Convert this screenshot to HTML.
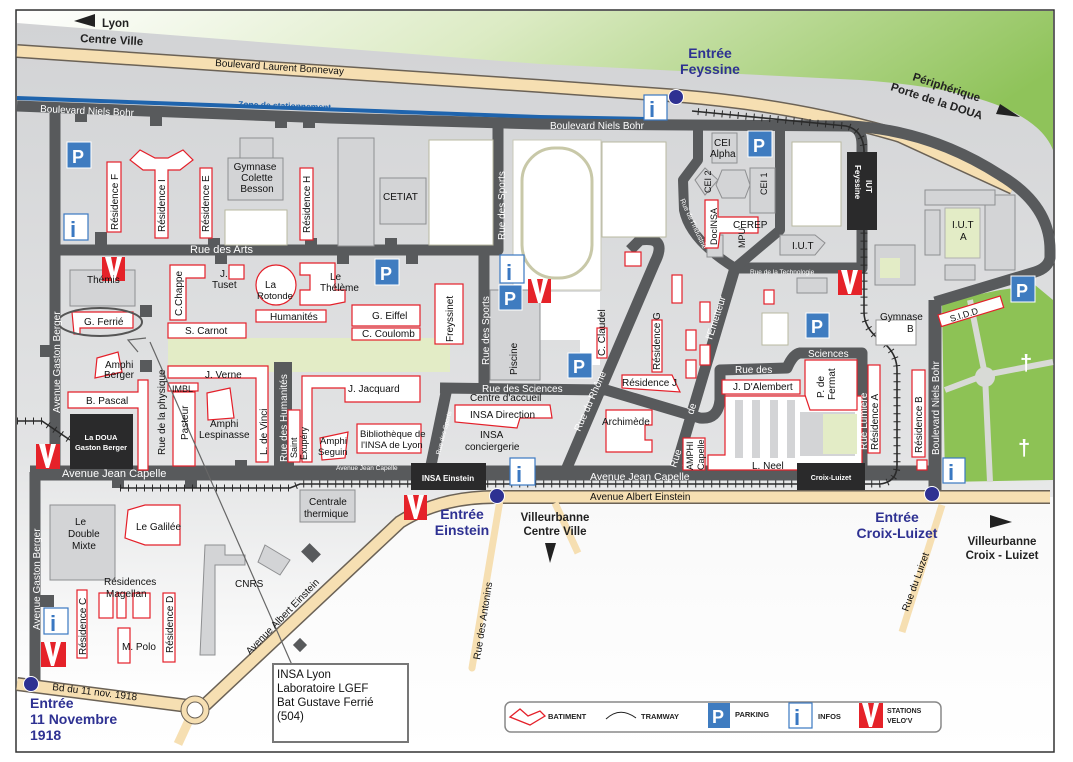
<!DOCTYPE html>
<html><head><meta charset="utf-8"><style>
html,body{margin:0;padding:0;background:#fff}
svg{display:block}
text{font-family:"Liberation Sans",sans-serif}
.r{fill:#585a5c;stroke:none}
.b{fill:#fff;stroke:#e4202a;stroke-width:1.2}
.g{fill:#d3d4d6;stroke:#8e8f91;stroke-width:1}
.w{fill:#fff;stroke:#b8b8a0;stroke-width:1}
.t{font-size:10px;fill:#111}
.wt{font-size:10px;fill:#fff}
.en{font-size:14px;font-weight:bold;fill:#2e3192}
.bk{font-size:11.5px;font-weight:bold;fill:#222}
</style></head><body>
<svg width="1073" height="762" viewBox="0 0 1073 762" xmlns="http://www.w3.org/2000/svg">
<defs>
<linearGradient id="gr" x1="0" y1="0" x2="1" y2="0.3">
<stop offset="0" stop-color="#ffffff"/><stop offset="0.45" stop-color="#dcebc4"/><stop offset="1" stop-color="#8fc35a"/></linearGradient>
<linearGradient id="bg" x1="0" y1="0" x2="0" y2="1">
<stop offset="0" stop-color="#d2d3d5"/><stop offset="0.62" stop-color="#e2e3e4"/><stop offset="0.9" stop-color="#fafafa"/><stop offset="1" stop-color="#ffffff"/></linearGradient>
<linearGradient id="lo" x1="0" y1="0" x2="0" y2="1">
<stop offset="0" stop-color="#e6e7e8"/><stop offset="0.5" stop-color="#f6f6f6"/><stop offset="1" stop-color="#ffffff"/></linearGradient>
</defs>
<rect x="16" y="10" width="1038" height="742" fill="url(#lo)" stroke="#333" stroke-width="1.5"/>
<rect x="17" y="11" width="1036" height="200" fill="url(#gr)"/>
<path d="M17,23 L540,64 L860,80 Q1030,92 1053,150 L1053,497 L490,497 Q430,497 395,525 L205,705 L17,680 Z" fill="url(#bg)"/>
<path d="M942,302 L1000,290 L1035,285 L1053,300 L1053,480 L945,482 Z" fill="#8dc255"/>
<path d="M970,300 L985,375 L990,482 M945,390 L985,375 L1053,362" stroke="#d8dad6" stroke-width="6" fill="none"/>
<circle cx="985" cy="377" r="10" fill="#d8dad6"/>
<text x="1020" y="370" font-size="22" fill="#fff" font-weight="bold">†</text>
<text x="1018" y="455" font-size="22" fill="#fff" font-weight="bold">†</text>
<rect x="168" y="338" width="282" height="34" fill="#e3ecc6"/>
<rect x="825" y="415" width="37" height="42" fill="#e3ecc6"/>
<path d="M17,51 L540,86 L680,96 Q800,106 900,136 L1013,188" stroke="#6b6256" stroke-width="14" fill="none"/>
<path d="M17,51 L540,86 L680,96 Q800,106 900,136 L1013,188" stroke="#f6dfb2" stroke-width="11" fill="none"/>
<text transform="translate(215,66) rotate(3.8)" class="t" font-size="10.5">Boulevard  Laurent  Bonnevay</text>
<path d="M17,98 L540,117 L646,119" stroke="#1f64ad" stroke-width="4" fill="none"/>
<text transform="translate(238,107) rotate(2)" font-size="8.5" font-weight="bold" fill="#1f64ad">Zone de stationnement</text>
<g fill="none" stroke="#585a5c" stroke-linejoin="round">
<path d="M17,106 L330,118 L540,124 L850,126 Q862,128 862,145 L862,268 L735,268" stroke-width="11"/>
<path d="M850,126 Q930,130 1000,175 Q1050,205 1050,250 L1050,258 Q1048,268 1035,272 L935,302" stroke-width="11"/>
<path d="M698,124 L698,160 L683,180 L684,210 Q690,240 735,268 L780,230 L780,124" stroke-width="10"/>
<path d="M735,268 L673,477" stroke-width="11"/>
<path d="M55,106 L55,475" stroke-width="11"/>
<path d="M35,472 L35,682" stroke-width="11"/>
<path d="M55,250 L500,250" stroke-width="11"/>
<path d="M498,124 L498,250 L484,250 L484,392" stroke-width="11"/>
<path d="M440,388 L606,390 L700,418 Q718,420 720,400 L720,370 L787,368 Q793,354 800,353 L862,353 L862,475" stroke-width="11"/>
<path d="M447,388 L430,470" stroke-width="11"/>
<path d="M563,477 L655,262 Q668,236 640,240 L630,250" stroke-width="11"/>
<path d="M283,362 L283,470" stroke-width="18"/>
<path d="M935,300 L935,495" stroke-width="13"/>
<path d="M30,473 L930,473" stroke-width="15"/>
</g>
<g class="r">
<rect x="75" y="108" width="12" height="14"/><rect x="150" y="112" width="12" height="14"/><rect x="275" y="116" width="12" height="12"/><rect x="303" y="116" width="12" height="12"/>
<rect x="95" y="232" width="12" height="14"/><rect x="208" y="238" width="12" height="12"/><rect x="305" y="238" width="12" height="12"/><rect x="385" y="238" width="12" height="12"/>
<rect x="215" y="254" width="12" height="10"/><rect x="337" y="254" width="12" height="10"/><rect x="406" y="254" width="12" height="10"/>
<rect x="140" y="305" width="12" height="12"/><rect x="140" y="360" width="12" height="12"/><rect x="40" y="345" width="14" height="12"/>
<rect x="40" y="595" width="14" height="12"/><rect x="112" y="476" width="12" height="12"/><rect x="185" y="476" width="12" height="12"/>
<rect x="282" y="460" width="12" height="10"/><rect x="235" y="460" width="12" height="10"/>
</g>
<g fill="none" stroke="#2a2a2a">
<path d="M17,421 L42,421 L70,440 M120,488 L290,488 L300,484 L880,484 Q897,482 897,465 L897,370 Q897,352 880,340 Q864,328 864,312 L864,150 Q863,130 846,126 L692,111" stroke-width="1.6"/>
<path d="M17,421 L42,421 L70,440 M120,488 L290,488 L300,484 L880,484 Q897,482 897,465 L897,370 Q897,352 880,340 Q864,328 864,312 L864,150 Q863,130 846,126 L692,111" stroke-width="7" stroke-dasharray="1 7"/>
</g>
<rect x="513" y="140" width="88" height="150" fill="#fff" stroke="#c8c8b8"/>
<rect x="522" y="148" width="70" height="130" rx="33" fill="#fff" stroke="#c8c8a8" stroke-width="3"/>
<path d="M535,292 L600,292 L600,365 L580,365 L580,340 L540,340 L535,300Z" fill="#fff"/>
<rect x="429" y="140" width="64" height="105" class="w"/>
<rect x="602" y="142" width="64" height="95" class="w"/>
<rect x="792" y="142" width="49" height="84" class="w"/>
<rect x="225" y="210" width="62" height="35" class="w"/>
<rect x="762" y="313" width="26" height="32" class="w"/>
<rect x="228" y="158" width="55" height="42" class="g"/><rect x="240" y="138" width="33" height="20" class="g"/>
<rect x="338" y="138" width="36" height="108" class="g"/><rect x="380" y="178" width="46" height="46" class="g"/>
<rect x="70" y="270" width="65" height="36" class="g"/>
<rect x="50" y="505" width="65" height="75" class="g"/>
<path d="M205,545 L225,545 L225,555 L245,555 L245,565 L215,565 L215,655 L200,655 Z" class="g" fill="none"/>
<path d="M265,545 L290,560 L280,575 L258,562Z" class="g" fill="none"/>
<rect x="300" y="490" width="55" height="32" class="g"/>
<rect x="490" y="290" width="50" height="90" class="g"/>
<rect x="712" y="133" width="25" height="30" class="g"/>
<path d="M695,180 L705,168 L718,180 L705,195Z" class="g"/>
<rect x="750" y="168" width="25" height="45" class="g"/>
<path d="M722,170 L745,170 L750,185 L745,198 L722,198 L716,185Z" class="g"/>
<rect x="707" y="235" width="16" height="22" class="g"/>
<path d="M780,235 L815,235 L825,243 L815,255 L780,255Z" class="g"/>
<rect x="875" y="245" width="40" height="40" class="g"/><rect x="880" y="258" width="20" height="20" fill="#e3ecc6"/>
<rect x="945" y="208" width="35" height="50" fill="#e3ecc6" stroke="#b0b0b0"/>
<rect x="925" y="210" width="15" height="45" class="g"/><rect x="985" y="195" width="30" height="75" class="g"/>
<rect x="925" y="190" width="70" height="15" class="g"/><rect x="945" y="265" width="30" height="15" class="g"/>
<rect x="876" y="320" width="40" height="25" fill="#fff" stroke="#999"/>
<rect x="797" y="278" width="30" height="15" class="g"/>
<rect x="107" y="162" width="14" height="70" class="b"/>
<path d="M130,160 L140,150 L155,158 L168,158 L183,150 L193,160 L180,170 L168,170 L168,238 L155,238 L155,170 L143,170Z" class="b"/>
<rect x="200" y="168" width="12" height="70" class="b"/>
<rect x="300" y="168" width="13" height="72" class="b"/>
<path d="M72,312 L133,312 L133,328 L80,328 L80,334 L74,334Z" class="b"/>
<path d="M97,358 L118,352 L122,372 L95,378Z" class="b"/>
<path d="M68,392 L138,392 L138,380 L148,380 L148,470 L138,470 L138,408 L68,408Z" class="b"/>
<path d="M170,265 L205,265 L205,278 L186,278 L186,320 L170,320Z" class="b"/>
<rect x="229" y="265" width="15" height="14" class="b"/>
<circle cx="276" cy="285" r="20" class="b"/>
<path d="M300,263 L335,263 L335,290 L345,290 L345,302 L330,305 L300,305 L300,290 L310,290 L310,275 L300,275Z" class="b"/>
<rect x="256" y="310" width="70" height="12" class="b"/>
<rect x="168" y="323" width="78" height="15" class="b"/>
<path d="M352,305 L420,305 L420,326 L352,326Z" class="b"/>
<rect x="352" y="328" width="68" height="12" class="b"/>
<rect x="435" y="284" width="28" height="60" class="b"/>
<path d="M168,366 L268,366 L268,462 L256,462 L256,378 L168,378Z" class="b"/>
<rect x="168" y="383" width="30" height="8" class="b"/>
<rect x="173" y="392" width="22" height="74" class="b"/>
<path d="M207,393 L230,388 L234,418 L208,420Z" class="b"/>
<rect x="288" y="410" width="12" height="52" class="b"/>
<path d="M302,376 L420,376 L420,402 L345,402 L345,388 L312,388 L312,462 L302,462Z" class="b"/>
<path d="M320,438 L348,432 L345,458 L322,460Z" class="b"/>
<rect x="357" y="424" width="64" height="29" class="b"/>
<path d="M455,405 L550,405 L552,418 L520,418 L517,428 L455,422Z" class="b"/>
<path d="M606,410 L652,410 L652,425 L645,425 L645,440 L652,440 L652,452 L606,452Z" class="b"/>
<rect x="597" y="328" width="10" height="30" class="b"/>
<rect x="652" y="320" width="10" height="52" class="b"/>
<path d="M622,375 L672,375 L680,392 L622,388Z" class="b"/>
<rect x="625" y="252" width="16" height="14" class="b"/>
<rect x="672" y="275" width="10" height="28" class="b"/>
<rect x="700" y="302" width="10" height="20" class="b"/><rect x="686" y="330" width="10" height="20" class="b"/><rect x="700" y="345" width="10" height="20" class="b"/><rect x="686" y="360" width="10" height="18" class="b"/>
<rect x="764" y="290" width="10" height="14" class="b"/>
<rect x="683" y="438" width="22" height="32" class="b"/>
<rect x="722" y="380" width="78" height="14" class="b"/>
<path d="M725,396 L862,396 L862,470 L708,470 L708,455 L725,455Z" class="b"/>
<g fill="#d3d4d6"><rect x="735" y="400" width="8" height="58"/><rect x="752" y="400" width="8" height="58"/><rect x="770" y="400" width="8" height="58"/><rect x="787" y="400" width="8" height="58"/><rect x="800" y="412" width="55" height="44"/></g>
<rect x="823" y="414" width="34" height="40" fill="#e3ecc6"/>
<path d="M805,360 L857,360 L857,410 L810,410 L805,395Z" class="b"/>
<rect x="868" y="365" width="12" height="88" class="b"/>
<rect x="912" y="370" width="13" height="87" class="b"/>
<rect x="917" y="460" width="10" height="10" class="b"/>
<path d="M705,200 L718,200 L718,217 L758,217 L758,233 L720,233 L718,248 L705,248Z" class="b"/>
<path d="M128,510 L145,505 L180,505 L180,545 L145,545 L125,538Z" class="b"/>
<rect x="77" y="590" width="10" height="68" class="b"/>
<rect x="99" y="593" width="14" height="25" class="b"/><rect x="117" y="593" width="9" height="25" class="b"/><rect x="133" y="593" width="17" height="25" class="b"/>
<rect x="163" y="593" width="12" height="69" class="b"/>
<rect x="118" y="628" width="12" height="35" class="b"/>
<g transform="translate(938,315) rotate(-17)"><rect x="0" y="0" width="65" height="12" class="b"/></g>
<g fill="none" stroke-linecap="butt">
<path d="M1050,497 L495,497 Q440,497 400,522 L205,705" stroke="#6b6256" stroke-width="14"/>
<path d="M17,684 L188,706" stroke="#6b6256" stroke-width="14"/>
<path d="M1050,497 L495,497 Q440,497 400,522 L205,705" stroke="#f6dfb2" stroke-width="11"/>
<path d="M17,684 L188,706" stroke="#f6dfb2" stroke-width="11"/>
<path d="M190,718 L178,744" stroke="#f6dfb2" stroke-width="9"/>
<path d="M500,500 L472,668" stroke="#f6dfb2" stroke-width="7" stroke-linecap="round"/>
<path d="M555,503 L578,553" stroke="#f6dfb2" stroke-width="7"/>
<path d="M942,505 L902,632" stroke="#f6dfb2" stroke-width="7"/>
</g>
<circle cx="195" cy="710" r="14" fill="#f6dfb2" stroke="#6b6256"/>
<circle cx="195" cy="710" r="8" fill="#fff" stroke="#6b6256"/>
<rect x="295" y="640" width="10" height="10" transform="rotate(-45 300 645)" fill="#585a5c"/>
<rect x="305" y="545" width="12" height="16" transform="rotate(-45 311 553)" fill="#585a5c"/>
<rect x="70" y="414" width="63" height="55" fill="#2a2a2b"/>
<text x="101" y="440" font-size="7.5" font-weight="bold" fill="#fff" text-anchor="middle">La DOUA</text>
<text x="101" y="450" font-size="7.5" font-weight="bold" fill="#fff" text-anchor="middle">Gaston Berger</text>
<rect x="411" y="463" width="75" height="27" fill="#2a2a2b"/>
<text x="448" y="481" font-size="8" font-weight="bold" fill="#fff" text-anchor="middle">INSA Einstein</text>
<rect x="797" y="463" width="68" height="27" fill="#2a2a2b"/>
<text x="831" y="480" font-size="7" font-weight="bold" fill="#fff" text-anchor="middle">Croix-Luizet</text>
<rect x="847" y="152" width="30" height="78" fill="#2a2a2b"/>
<text transform="translate(855,165) rotate(90)" font-size="8" font-weight="bold" fill="#fff">Feyssine</text>
<text transform="translate(866,180) rotate(90)" font-size="8" font-weight="bold" fill="#fff">IUT</text>
<!-- legend box first -->
<rect x="505" y="702" width="436" height="30" rx="6" fill="#fff" stroke="#888" stroke-width="1.5"/>
<g font-family="Liberation Serif" font-weight="bold" fill="#3a78c2">
<rect x="644" y="95" width="23" height="25" fill="#fff" stroke="#3a78c2" stroke-width="1.2"/><text x="649" y="117" font-size="22">i</text>
<rect x="64" y="214" width="24" height="26" fill="#fff" stroke="#3a78c2" stroke-width="1.2"/><text x="70" y="237" font-size="22">i</text>
<rect x="500" y="255" width="24" height="28" fill="#fff" stroke="#3a78c2" stroke-width="1.2"/><text x="506" y="280" font-size="22">i</text>
<rect x="510" y="458" width="25" height="27" fill="#fff" stroke="#3a78c2" stroke-width="1.2"/><text x="516" y="482" font-size="22">i</text>
<rect x="943" y="458" width="22" height="25" fill="#fff" stroke="#3a78c2" stroke-width="1.2"/><text x="948" y="480" font-size="22">i</text>
<rect x="44" y="608" width="24" height="26" fill="#fff" stroke="#3a78c2" stroke-width="1.2"/><text x="50" y="631" font-size="22">i</text>
<rect x="789" y="703" width="23" height="25" fill="#fff" stroke="#3a78c2" stroke-width="1.2"/><text x="794" y="725" font-size="22">i</text>
</g>
<g font-weight="bold" fill="#fff" font-size="18">
<rect x="67" y="142" width="24" height="26" fill="#3f7cc0" stroke="#fff"/><text x="72" y="163">P</text>
<rect x="375" y="259" width="24" height="26" fill="#3f7cc0" stroke="#fff"/><text x="380" y="280">P</text>
<rect x="499" y="285" width="23" height="25" fill="#3f7cc0" stroke="#fff"/><text x="504" y="305">P</text>
<rect x="568" y="353" width="24" height="25" fill="#3f7cc0" stroke="#fff"/><text x="573" y="373">P</text>
<rect x="748" y="131" width="24" height="26" fill="#3f7cc0" stroke="#fff"/><text x="753" y="152">P</text>
<rect x="806" y="313" width="23" height="25" fill="#3f7cc0" stroke="#fff"/><text x="811" y="333">P</text>
<rect x="1011" y="276" width="24" height="26" fill="#3f7cc0" stroke="#fff"/><text x="1016" y="297">P</text>
<rect x="708" y="703" width="22" height="25" fill="#3f7cc0"/><text x="712" y="723">P</text>
</g>
<g>
<g transform="translate(102,257)"><rect width="23" height="24" fill="#e52229"/><path d="M3,0 L9,0 L12,15 L15,0 L20,0 L13,24 L10,24Z" fill="#fff"/></g>
<g transform="translate(528,279)"><rect width="23" height="24" fill="#e52229"/><path d="M3,0 L9,0 L12,15 L15,0 L20,0 L13,24 L10,24Z" fill="#fff"/></g>
<g transform="translate(838,270)"><rect width="24" height="25" fill="#e52229"/><path d="M3,0 L9,0 L12,15 L15,0 L20,0 L13,24 L10,24Z" fill="#fff"/></g>
<g transform="translate(36,444)"><rect width="24" height="25" fill="#e52229"/><path d="M3,0 L9,0 L12,15 L15,0 L20,0 L13,24 L10,24Z" fill="#fff"/></g>
<g transform="translate(404,495)"><rect width="23" height="25" fill="#e52229"/><path d="M3,0 L9,0 L12,15 L15,0 L20,0 L13,24 L10,24Z" fill="#fff"/></g>
<g transform="translate(41,642)"><rect width="25" height="25" fill="#e52229"/><path d="M3,0 L9,0 L12,15 L15,0 L20,0 L13,24 L10,24Z" fill="#fff"/></g>
<g transform="translate(859,703)"><rect width="24" height="25" fill="#e52229"/><path d="M3,0 L9,0 L12,15 L15,0 L20,0 L13,24 L10,24Z" fill="#fff"/></g>
</g>
<g fill="#2e3192" stroke="#fff" stroke-width="1"><circle cx="676" cy="97" r="7.5"/><circle cx="497" cy="496" r="7.5"/><circle cx="932" cy="494" r="7.5"/><circle cx="31" cy="684" r="7.5"/></g>
<ellipse cx="100" cy="322" rx="42" ry="14" fill="none" stroke="#555" stroke-width="2"/>
<path d="M150,342 L292,665" stroke="#666" stroke-width="1.2"/>
<path d="M138,352 L128,340 L146,338" fill="none" stroke="#666" stroke-width="1.2"/>
<rect x="273" y="664" width="135" height="78" fill="#fff" stroke="#777" stroke-width="2"/>
<g font-size="11.5" fill="#111"><text x="277" y="678">INSA Lyon</text><text x="277" y="692">Laboratoire LGEF</text><text x="277" y="706">Bat Gustave Ferrié</text><text x="277" y="720">(504)</text></g>
<path d="M510,717 L520,709 L528,716 L540,711 L545,716 L530,725Z" fill="none" stroke="#e4202a" stroke-width="1.3"/>
<text x="548" y="719" font-size="7.5" font-weight="bold" fill="#222">BATIMENT</text>
<path d="M606,719 Q620,706 636,718" fill="none" stroke="#222"/><text x="641" y="719" font-size="7.5" font-weight="bold" fill="#222">TRAMWAY</text>
<text x="735" y="717" font-size="7.5" font-weight="bold" fill="#222">PARKING</text>
<text x="818" y="719" font-size="7.5" font-weight="bold" fill="#222">INFOS</text>
<text x="887" y="713" font-size="7" font-weight="bold" fill="#222">STATIONS</text>
<text x="887" y="723" font-size="7" font-weight="bold" fill="#222">VELO'V</text>
<g class="wt">
<text transform="translate(40,112) rotate(2.5)">Boulevard  Niels  Bohr</text>
<text x="550" y="129">Boulevard   Niels   Bohr</text>
<text x="190" y="253" font-size="11">Rue   des   Arts</text>
<text transform="translate(505,240) rotate(-90)">Rue  des  Sports</text>
<text transform="translate(489,365) rotate(-90)">Rue  des  Sports</text>
<text x="482" y="392">Rue  des  Sciences</text>
<text x="735" y="373">Rue des</text><text x="808" y="357">Sciences</text>
<text transform="translate(60,413) rotate(-90)">Avenue  Gaston  Berger</text>
<text transform="translate(40,630) rotate(-90)">Avenue  Gaston  Berger</text>
<text x="62" y="477" font-size="11">Avenue Jean Capelle</text>
<text x="336" y="470" font-size="6.5">Avenue Jean Capelle</text>
<text x="590" y="480" font-size="10.5">Avenue Jean Capelle</text>
<text transform="translate(580,432) rotate(-66)">Rue du Rhône</text>
<text transform="translate(712,340) rotate(-72)">l'Emetteur</text>
<text transform="translate(693,415) rotate(-72)">de</text>
<text transform="translate(676,468) rotate(-72)">Rue</text>
<text x="750" y="274" font-size="6.5">Rue de  la   Technologie</text>
<text transform="translate(867,450) rotate(-90)">Rue   Lumière</text>
<text transform="translate(939,455) rotate(-90)">Boulevard   Niels  Bohr</text>
<text transform="translate(287,462) rotate(-90)">Rue  des  Humanités</text>
<text transform="translate(440,455) rotate(-75)" font-size="6.5">Rue des Sports</text>
<text transform="translate(680,200) rotate(65)" font-size="7" fill="#fff">Rue de l'Industrie</text>
</g>
<text transform="translate(165,455) rotate(-90)" class="t">Rue  de  la  physique</text>
<text x="590" y="500" class="t">Avenue Albert Einstein</text>
<text transform="translate(250,655) rotate(-46)" class="t">Avenue Albert Einstein</text>
<text transform="translate(52,690) rotate(7)" class="t">Bd du 11 nov. 1918</text>
<text transform="translate(480,660) rotate(-81)" class="t">Rue des Antonins</text>
<text transform="translate(908,612) rotate(-70)" class="t">Rue du Luizet</text>
<g class="t">
<text transform="translate(118,230) rotate(-90)">Résidence F</text>
<text transform="translate(165,232) rotate(-90)">Résidence I</text>
<text transform="translate(209,232) rotate(-90)">Résidence E</text>
<text transform="translate(310,233) rotate(-90)">Résidence H</text>
<text x="255" y="170" text-anchor="middle">Gymnase</text><text x="257" y="181" text-anchor="middle">Colette</text><text x="257" y="192" text-anchor="middle">Besson</text>
<text x="383" y="200">CETIAT</text>
<text x="87" y="283">Thémis</text>
<text x="84" y="325">G. Ferrié</text>
<text x="105" y="368">Amphi</text><text x="104" y="378">Berger</text>
<text x="86" y="404">B. Pascal</text>
<text transform="translate(182,316) rotate(-90)">C.Chappe</text>
<text x="220" y="277">J.</text><text x="212" y="288">Tuset</text>
<text x="265" y="288">La</text><text x="257" y="299" font-size="9.5">Rotonde</text>
<text x="330" y="280">Le</text><text x="320" y="291">Thélème</text>
<text x="270" y="320">Humanités</text>
<text x="185" y="334">S.  Carnot</text>
<text x="372" y="319">G. Eiffel</text>
<text x="362" y="337">C. Coulomb</text>
<text transform="translate(453,342) rotate(-90)">Freyssinet</text>
<text x="205" y="378">J. Verne</text>
<text x="172" y="392" font-size="9">IMBL</text>
<text transform="translate(188,440) rotate(-90)">Pasteur</text>
<text x="210" y="427">Amphi</text><text x="199" y="438">Lespinasse</text>
<text transform="translate(267,455) rotate(-90)">L. de Vinci</text>
<text transform="translate(297,458) rotate(-90)" font-size="9">Saint</text><text transform="translate(307,460) rotate(-90)" font-size="9">Exupéry</text>
<text x="348" y="392">J. Jacquard</text>
<text x="320" y="444" font-size="9.5">Amphi</text><text x="318" y="455" font-size="9.5">Seguin</text>
<text x="360" y="437" font-size="9.5">Bibliothèque de</text><text x="361" y="448" font-size="9.5">l'INSA de Lyon</text>
<text x="470" y="401">Centre d'accueil</text>
<text x="470" y="418">INSA Direction</text>
<text x="480" y="438">INSA</text><text x="465" y="450">conciergerie</text>
<text transform="translate(517,375) rotate(-90)">Piscine</text>
<text transform="translate(605,356) rotate(-90)">C. Claudel</text>
<text transform="translate(660,370) rotate(-90)">Résidence G</text>
<text x="622" y="386">Résidence J</text>
<text x="602" y="425">Archimède</text>
<text transform="translate(693,470) rotate(-90)" font-size="9">AMPHI</text><text transform="translate(704,470) rotate(-90)" font-size="9">Capelle</text>
<text x="733" y="390">J. D'Alembert</text>
<text x="752" y="469">L. Neel</text>
<text transform="translate(824,398) rotate(-90)">P. de</text><text transform="translate(835,400) rotate(-90)">Fermat</text>
<text transform="translate(878,450) rotate(-90)">Résidence A</text>
<text transform="translate(922,453) rotate(-90)">Résidence B</text>
<text x="714" y="146">CEI</text><text x="710" y="157">Alpha</text>
<text transform="translate(711,193) rotate(-90)" font-size="9">CEI 2</text>
<text transform="translate(767,195) rotate(-90)" font-size="9">CEI 1</text>
<text transform="translate(717,245) rotate(-90)" font-size="9">DocINSA</text>
<text x="733" y="228">CEREP</text>
<text transform="translate(745,248) rotate(-90)" font-size="9">MPU</text>
<text x="792" y="249">I.U.T</text>
<text x="952" y="228">I.U.T</text><text x="960" y="240">A</text>
<text x="880" y="320">Gymnase</text><text x="907" y="332">B</text>
<text transform="translate(951,322) rotate(-17)" font-size="9">S.I.D.D</text>
<text x="75" y="525">Le</text><text x="68" y="537">Double</text><text x="72" y="549">Mixte</text>
<text x="136" y="530">Le Galilée</text>
<text x="104" y="585">Résidences</text><text x="106" y="597">Magellan</text>
<text transform="translate(86,655) rotate(-90)">Résidence C</text>
<text transform="translate(173,653) rotate(-90)">Résidence D</text>
<text x="122" y="650">M. Polo</text>
<text x="235" y="587">CNRS</text>
<text x="309" y="505">Centrale</text><text x="304" y="517">thermique</text>
</g>
<text x="710" y="58" class="en" text-anchor="middle">Entrée</text>
<text x="710" y="74" class="en" text-anchor="middle">Feyssine</text>
<text x="462" y="519" class="en" text-anchor="middle">Entrée</text>
<text x="462" y="535" class="en" text-anchor="middle">Einstein</text>
<text x="897" y="522" class="en" text-anchor="middle">Entrée</text>
<text x="897" y="538" class="en" text-anchor="middle">Croix-Luizet</text>
<text x="30" y="708" class="en">Entrée</text>
<text x="30" y="724" class="en">11 Novembre</text>
<text x="30" y="740" class="en">1918</text>
<path d="M74,21 L95,14 L95,27Z" fill="#222"/>
<text x="102" y="27" class="bk">Lyon</text>
<text transform="translate(80,42) rotate(3)" class="bk">Centre Ville</text>
<text x="555" y="521" class="bk" text-anchor="middle">Villeurbanne</text>
<text x="555" y="535" class="bk" text-anchor="middle">Centre Ville</text>
<path d="M545,543 L556,543 L550,563Z" fill="#222"/>
<path d="M990,515 L1012,522 L990,528Z" fill="#222"/>
<text x="1002" y="545" class="bk" text-anchor="middle">Villeurbanne</text>
<text x="1002" y="559" class="bk" text-anchor="middle">Croix - Luizet</text>
<text transform="translate(912,80) rotate(18)" class="bk" font-size="11">Périphérique</text>
<text transform="translate(890,90) rotate(18)" class="bk" font-size="11">Porte de la DOUA</text>
<path d="M1000,104 L1020,117 L996,114Z" fill="#222"/>
</svg>
</body></html>
